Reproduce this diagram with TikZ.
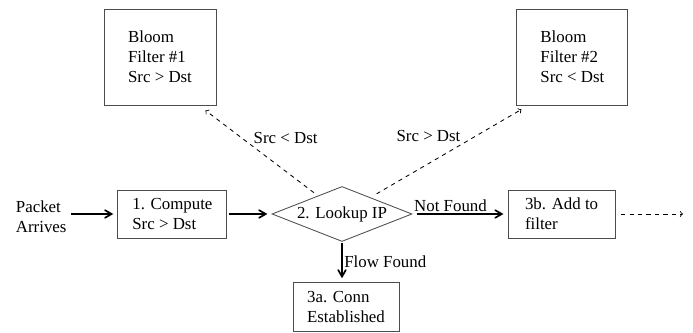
\documentclass[tikz,border=0pt]{standalone}
\usepackage{fontspec}
\setmainfont{Liberation Serif}
\usepackage{tikz}
\usetikzlibrary{arrows}
\usetikzlibrary{shapes}
\tikzstyle{BoxNode}=[rectangle, draw=black!70, semithick, align=left, inner sep=0pt]
\tikzstyle{FilterNode}=[BoxNode, minimum width=2.8cm, minimum height=2.4cm]
\tikzstyle{StepNode}=[BoxNode, minimum height=1.2cm]
\tikzstyle{DecisionNode}=[diamond, aspect=2.5, draw=black!70, semithick, inner sep=0pt, minimum width=3.5cm, minimum height=1.375cm]
\tikzstyle{TextNode}=[align=left, inner sep=0pt]
\tikzstyle{FlowEdge}=[-angle 60, very thick, shorten <=3pt, shorten >=3pt]
\tikzstyle{FilterEdge}=[->, semithick, dashed]
\tikzstyle{EdgeLabel}=[inner sep=1pt]

\begin{document}
\begin{tikzpicture}[font=\fontsize{12}{14.2}\selectfont]
\useasboundingbox (0,0) rectangle (17.325,8.325);

\node[FilterNode](BF1) at (4.0,6.9) {Bloom\\Filter \#1\\Src > Dst};
\node[FilterNode, minimum width=2.775cm](BF2) at (14.31,6.9) {Bloom\\Filter \#2\\Src < Dst};
\node[TextNode](PKT) at (1.03,2.9) {Packet\\Arrives};
\node[StepNode, minimum width=2.725cm](COMP) at (4.31,2.975) {1. Compute\\Src > Dst};
\node[DecisionNode](LOOKUP) at (8.55,2.975) {2. Lookup IP};
\node[StepNode, minimum width=2.675cm](ADD) at (14.04,2.975) {3b. Add to\\filter};
\node[StepNode, minimum width=2.65cm, minimum height=1.225cm](CONN) at (8.65,0.64) {3a. Conn\\Established};
\coordinate(OUT) at (17.075,2.975);

\draw[FlowEdge](PKT.east |- COMP) -- (COMP);
\draw[FlowEdge, shorten <=1pt](COMP) -- (LOOKUP);
\draw[FlowEdge](LOOKUP) -- node[EdgeLabel, above, pos=0.4]{Not Found} (ADD);
\draw[FlowEdge, shorten <=1pt](LOOKUP.south) -- node[EdgeLabel, right]{Flow Found} (LOOKUP.south |- CONN.north);
\draw[FilterEdge, shorten <=4pt](ADD) -- (OUT);

% checks against the two filters
\draw[FilterEdge, shorten <=0.88cm](LOOKUP.center) -- node[EdgeLabel, pos=0.66, anchor=south west]{Src < Dst} ([xshift=-0.275cm, yshift=-0.125cm]BF1.south east);
\draw[FilterEdge, shorten <=1.0cm](LOOKUP.center) -- node[EdgeLabel, pos=0.67, anchor=south east]{Src > Dst} ([xshift=0.125cm, yshift=-0.1cm]BF2.south west);
\end{tikzpicture}
\end{document}
